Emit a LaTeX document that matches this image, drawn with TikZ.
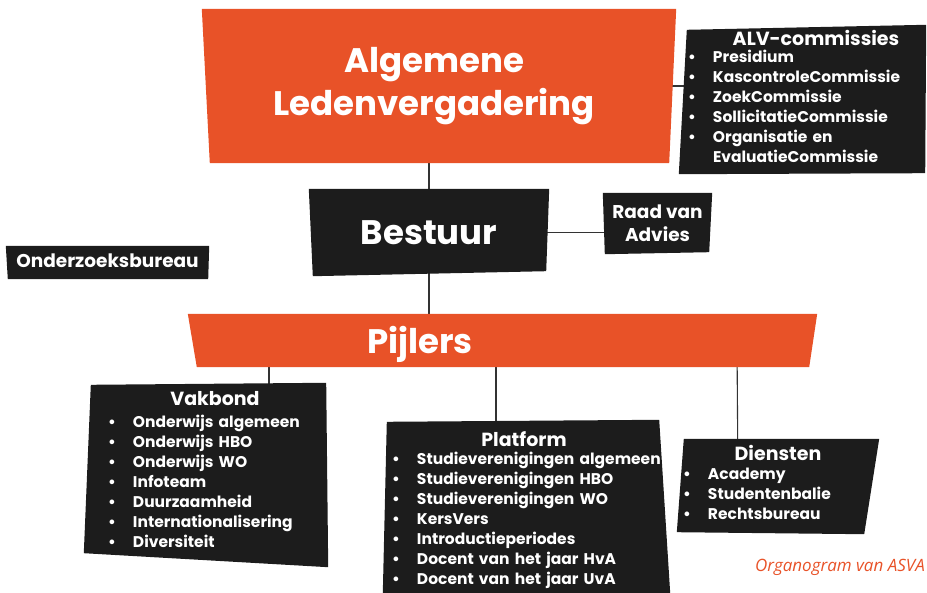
\documentclass[tikz,border=0pt]{standalone}
\usepackage{fontspec}
\setmainfont{Poppins}
\newfontfamily\capfont{Open Sans}
\usetikzlibrary{calc, positioning}

\definecolor{asvaorange}{HTML}{E85228}
\definecolor{asvadark}{HTML}{1C1C1C}
\definecolor{linkgray}{HTML}{333333}

\pgfdeclarelayer{lines}
\pgfdeclarelayer{boxes}
\pgfsetlayers{lines,boxes,main}

\newcommand{\bigfont}{\fontsize{34}{43}\selectfont\bfseries}
\newcommand{\midfont}{\fontsize{18.5}{23}\selectfont\bfseries}
\newcommand{\titlefont}{\fontsize{19}{20}\selectfont\bfseries}
\newcommand{\listfont}{\fontsize{15.5}{20}\selectfont\bfseries}
\newcommand{\itm}{\makebox[25pt][l]{\textbullet}}
% title line, gap below it, indent of the list
\newcommand{\boxtitle}[3]{{\centering\titlefont\noindent #1\par}\vspace{#2}\leftskip=#3\relax\noindent\ignorespaces}
% fill a slightly skewed box round a node
\newcommand{\skewfill}[6]{%
  \fill[#2] ($(#1.north west)+(#3)$) -- ($(#1.north east)+(#4)$)
    -- ($(#1.south east)+(#5)$) -- ($(#1.south west)+(#6)$) -- cycle;}

\begin{document}
\begin{tikzpicture}[
            x = 1pt, y = -1pt, % pixel grid, y down
            every node/.style = {text=white, inner sep=0pt},
            bigbox/.style = {font=\bigfont, align=center},
            midbox/.style = {font=\midfont, align=center},
            listbox/.style = {font=\listfont},
            link/.style = {draw=linkgray, line width=1.1pt}
        ]
        \useasboundingbox (0,0) rectangle (927,593);

        \node[bigbox, minimum width=474pt, minimum height=154pt] (alv) at (434,86) {Algemene\\Ledenvergadering};
        \node[bigbox, minimum width=240pt, minimum height=87pt] (bestuur) at (429,232.5) {Bestuur};
        \node[midbox, minimum width=109pt, minimum height=61pt] (raad) at (657.5,223.5) {Raad van\\Advies};
        \node[midbox, minimum width=203pt, minimum height=37pt] (bureau) at (107.5,260.5) {Onderzoeksbureau};
        \node[bigbox, minimum width=464pt, minimum height=60pt] (pijlers) at (420,344) {Pijlers};

        \node[listbox, text width=247pt, minimum height=149pt] (commissies) at (802.5,96) {%
            \boxtitle{\hspace*{27pt}ALV-commissies}{-3pt}{9pt}%
            \itm Presidium\\
            \itm KascontroleCommissie\\
            \itm ZoekCommissie\\
            \itm SollicitatieCommissie\\
            \itm Organisatie en\\
            \hspace*{25pt}EvaluatieCommissie\par};

        \node[listbox, text width=244pt, minimum height=184pt] (vakbond) at (206,470) {%
            \boxtitle{\hspace*{18pt}Vakbond}{2pt}{24pt}%
            \itm Onderwijs algemeen\\
            \itm Onderwijs HBO\\
            \itm Onderwijs WO\\
            \itm Infoteam\\
            \itm Duurzaamheid\\
            \itm Internationalisering\\
            \itm Diversiteit\par};

        \node[listbox, text width=287pt, minimum height=173pt] (platform) at (526.5,510) {%
            \boxtitle{\hspace*{-5pt}Platform}{-2pt}{9pt}%
            \itm Studieverenigingen algemeen\\
            \itm Studieverenigingen HBO\\
            \itm Studieverenigingen WO\\
            \itm KersVers\\
            \itm Introductieperiodes\\
            \itm Docent van het jaar HvA\\
            \itm Docent van het jaar UvA\par};

        \node[listbox, text width=202pt, minimum height=95pt] (diensten) at (778,482.5) {%
            \boxtitle{Diensten}{-1pt}{6pt}%
            \itm Academy\\
            \itm Studentenbalie\\
            \itm Rechtsbureau\par};

        \node[anchor=base east, text=asvaorange, font=\capfont\itshape\fontsize{17}{20}\selectfont] (caption) at (925,572) {Organogram van ASVA};

        \begin{pgfonlayer}{boxes}
            \skewfill{alv}{asvaorange}{5,0}{5,0}{-2,0}{13,0}
            \skewfill{pijlers}{asvaorange}{0,0}{165,0}{157,-7}{9,-7}
            \skewfill{bestuur}{asvadark}{0,0}{0,0}{-3,-5}{4,0}
            \skewfill{raad}{asvadark}{0,0}{0,0}{-3,-2}{2,0}
            \skewfill{bureau}{asvadark}{0,4}{0,4}{-1,0}{2,0}
            \skewfill{commissies}{asvadark}{8,8.5}{0,3.5}{-1,2.5}{0,3.5}
            \skewfill{vakbond}{asvadark}{7,7}{-2,5}{0,5}{0,-9}
            \skewfill{platform}{asvadark}{4,-1.5}{-11,-3.5}{0,-3.5}{0,-3.5}
            \skewfill{diensten}{asvadark}{7,4}{0,4}{-15,4}{0,2}
        \end{pgfonlayer}

        \begin{pgfonlayer}{lines}
            \path[link] (bestuur.center) -- (bestuur.center |- alv.center);
            \path[link] (bestuur.center) -- (bestuur.center |- pijlers.center);
            \path[link] (bestuur.center) -- (bestuur.center -| raad.center);
            \path[link] (alv.center) -- (alv.center -| commissies.center);
            \path[link] ($(vakbond.center)+(63,0)$) -- ($(vakbond.center |- pijlers.center)+(63,0)$);
            \path[link] ($(platform.center)+(-30.5,0)$) -- ($(platform.center |- pijlers.center)+(-30.5,0)$);
            \path[link] ($(diensten.center)+(-40,0)$) -- ($(diensten.center |- pijlers.center)+(-41,0)$);
        \end{pgfonlayer}
\end{tikzpicture}
\end{document}
